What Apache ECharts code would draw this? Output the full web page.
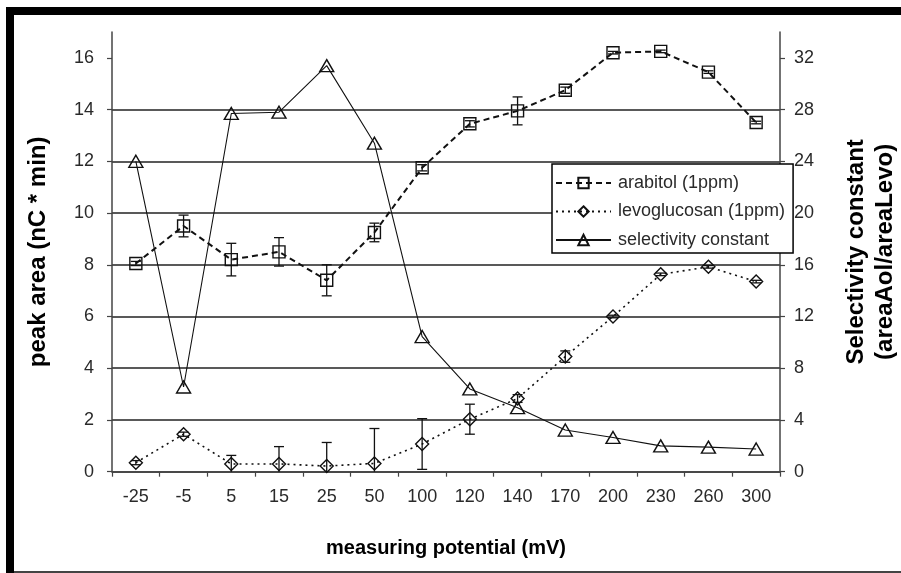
<!DOCTYPE html>
<html>
<head>
<meta charset="utf-8">
<script src="https://cdn.jsdelivr.net/npm/echarts@6/dist/echarts.min.js"></script>
<style>
  html, body { margin: 0; padding: 0; background: #fff; }
  #chart { width: 901px; height: 573px; }
</style>
</head>
<body>
<div id="chart"></div>
<script>
// Measuring potential (mV) categories
const categories = ['-25', '-5', '5', '15', '25', '50', '100', '120', '140', '170', '200', '230', '260', '300'];

// Peak areas (nC * min) and their error bar half-widths
const arabitol    = [8.05, 9.5, 8.2, 8.5, 7.4, 9.25, 11.75, 13.45, 13.95, 14.75, 16.2, 16.25, 15.45, 13.5];
const arabitolErr = [0.08, 0.42, 0.63, 0.55, 0.6, 0.36, 0.12, 0.12, 0.54, 0.12, 0.05, 0.05, 0.05, 0.05];
const levoglucosan    = [0.35, 1.45, 0.3, 0.3, 0.22, 0.32, 1.07, 2.03, 2.83, 4.45, 6.0, 7.63, 7.92, 7.35];
const levoglucosanErr = [0.08, 0.08, 0.33, 0.67, 0.91, 1.35, 0.98, 0.58, 0.15, 0.22, 0.05, 0.05, 0.05, 0.05];

// Selectivity constant (areaAol / areaLevo), right axis
const selectivity = [24.0, 6.55, 27.7, 27.8, 31.4, 25.4, 10.45, 6.4, 4.95, 3.22, 2.65, 2.0, 1.9, 1.75];

// Axis tick values
const leftTicks  = [0, 2, 4, 6, 8, 10, 12, 14, 16];
const rightTicks = [0, 4, 8, 12, 16, 20, 24, 28, 32];

const FONT = '"Liberation Sans", Arial, sans-serif';
const INK = '#111';
const LABEL = '#2a2a2a';

// Vertical error bars with end caps, drawn on the left value axis
function errorBars(values, errs) {
  return values.map((v, i) => [i, Math.max(0, v - errs[i]), v + errs[i], v - errs[i] < 0 ? 0 : 1]);
}
function renderErrorBar(params, api) {
  const x = api.value(0);
  const hi = api.coord([x, api.value(2)]);
  const lo = api.coord([x, api.value(1)]);
  const capped = api.value(3) === 1;
  const half = 5;
  const style = { stroke: INK, lineWidth: 1.3 };
  const children = [
    { type: 'line', shape: { x1: hi[0], y1: hi[1], x2: lo[0], y2: lo[1] }, style },
    { type: 'line', shape: { x1: hi[0] - half, y1: hi[1], x2: hi[0] + half, y2: hi[1] }, style }
  ];
  if (capped) {
    children.push({ type: 'line', shape: { x1: lo[0] - half, y1: lo[1], x2: lo[0] + half, y2: lo[1] }, style });
  }
  return { type: 'group', children };
}

const chart = echarts.init(document.getElementById('chart'), null, { renderer: 'canvas' });

const hollow = { color: 'rgba(255,255,255,0)', borderColor: INK, borderWidth: 1.4 };

chart.setOption({
  backgroundColor: '#fff',
  animation: false,
  textStyle: { fontFamily: FONT },
  graphic: [
    { type: 'rect', left: 6, top: 7, shape: { width: 8, height: 566 }, style: { fill: '#000' }, silent: true },
    { type: 'rect', left: 6, top: 7, shape: { width: 895, height: 8 }, style: { fill: '#000' }, silent: true },
    { type: 'rect', left: 14, top: 571, shape: { width: 887, height: 2 }, style: { fill: '#444' }, silent: true }
  ],
  grid: { left: 112, right: 121, top: 32, bottom: 101.3, containLabel: false, outerBoundsMode: 'none' },
  legend: {
    orient: 'vertical',
    left: 552,
    top: 164,
    padding: [10, 8, 4, 3],
    itemGap: 10.5,
    itemWidth: 55,
    itemHeight: 13,
    backgroundColor: '#fff',
    borderColor: '#000',
    borderWidth: 1.5,
    textStyle: { fontFamily: FONT, fontSize: 18, color: LABEL, padding: [0, 0, 0, 2] },
    data: ['arabitol (1ppm)', 'levoglucosan (1ppm)', 'selectivity constant']
  },
  xAxis: {
    type: 'category',
    data: categories,
    boundaryGap: true,
    name: 'measuring potential (mV)',
    nameLocation: 'middle',
    nameGap: 67,
    nameTextStyle: { fontFamily: FONT, fontSize: 20, fontWeight: 'bold', color: '#000' },
    axisLine: { lineStyle: { color: '#444', width: 1.5 } },
    axisTick: { show: true, alignWithLabel: false, length: 5, lineStyle: { color: '#444', width: 1.2 } },
    axisLabel: { fontFamily: FONT, fontSize: 18, color: LABEL, margin: 16 },
    splitLine: { show: false }
  },
  yAxis: [
    {
      type: 'value',
      min: 0,
      max: 17,
      interval: 2,
      position: 'left',
      name: 'peak area (nC * min)',
      nameLocation: 'middle',
      nameGap: 62,
      nameRotate: 90,
      nameTextStyle: { fontFamily: FONT, fontSize: 24, fontWeight: 'bold', color: '#000' },
      axisLine: { show: true, lineStyle: { color: '#444', width: 1.5 } },
      axisTick: { show: true, length: 5, customValues: leftTicks, lineStyle: { color: '#444', width: 1.2 } },
      axisLabel: { fontFamily: FONT, fontSize: 18, color: LABEL, margin: 18, customValues: leftTicks },
      splitLine: { show: true, showMaxLine: false, lineStyle: { color: '#222', width: 1.5 } }
    },
    {
      type: 'value',
      min: 0,
      max: 34,
      interval: 4,
      position: 'right',
      name: 'Selectivity constant\n(areaAol/areaLevo)',
      nameLocation: 'middle',
      nameGap: 62,
      nameRotate: 90,
      nameTextStyle: { fontFamily: FONT, fontSize: 24, fontWeight: 'bold', color: '#000', lineHeight: 29 },
      axisLine: { show: true, lineStyle: { color: '#444', width: 1.5 } },
      axisTick: { show: true, length: 5, customValues: rightTicks, lineStyle: { color: '#444', width: 1.2 } },
      axisLabel: { fontFamily: FONT, fontSize: 18, color: LABEL, margin: 14, customValues: rightTicks },
      splitLine: { show: false }
    }
  ],
  series: [
    {
      name: 'selectivity constant',
      type: 'line',
      yAxisIndex: 1,
      data: selectivity,
      symbol: 'triangle',
      symbolSize: [14, 12],
      lineStyle: { color: INK, width: 1.1, type: 'solid' },
      itemStyle: hollow,
      z: 3
    },
    {
      name: 'arabitol (1ppm)',
      type: 'line',
      yAxisIndex: 0,
      data: arabitol,
      symbol: 'rect',
      symbolSize: 12,
      lineStyle: { color: INK, width: 2, type: [6, 4] },
      itemStyle: hollow,
      z: 4
    },
    {
      name: 'levoglucosan (1ppm)',
      type: 'line',
      yAxisIndex: 0,
      data: levoglucosan,
      symbol: 'diamond',
      symbolSize: [13, 13],
      lineStyle: { color: INK, width: 1.6, type: [2, 4] },
      itemStyle: hollow,
      z: 4
    },
    {
      type: 'custom',
      yAxisIndex: 0,
      data: errorBars(arabitol, arabitolErr),
      renderItem: renderErrorBar,
      silent: true,
      z: 5
    },
    {
      type: 'custom',
      yAxisIndex: 0,
      data: errorBars(levoglucosan, levoglucosanErr),
      renderItem: renderErrorBar,
      silent: true,
      z: 5
    }
  ]
});
</script>
</body>
</html>
